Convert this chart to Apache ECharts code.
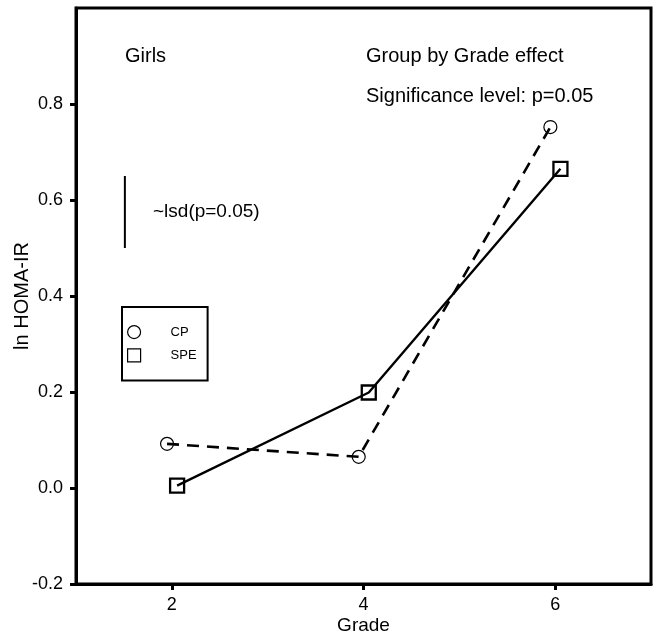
<!DOCTYPE html>
<html>
<head>
<meta charset="utf-8">
<script src="https://cdn.jsdelivr.net/npm/echarts@6/dist/echarts.min.js"></script>
<style>
  html, body { margin: 0; padding: 0; background: #fff; }
  #chart { width: 656px; height: 635px; }
</style>
</head>
<body>
<div id="chart"></div>
<script>
// ---- data ----
const grades = [2, 4, 6];
const cpValues = [0.092, 0.065, 0.752];
const speValues = [0.005, 0.199, 0.665];
const seriesNames = ['CP', 'SPE'];
const xTicks = [2, 4, 6];
const yTicks = [-0.2, 0.0, 0.2, 0.4, 0.6, 0.8];
const lsdX = 1.51;
const lsdRange = [0.50, 0.65];
const annotations = ['Girls', 'Group by Grade effect', 'Significance level: p=0.05', '~lsd(p=0.05)'];

// horizontal dodge so the two groups do not overlap
const dodgeCP = -0.05;
const dodgeSPE = 0.055;

const cpData = grades.map((g, i) => [g + dodgeCP, cpValues[i]]);
const speData = grades.map((g, i) => [g + dodgeSPE, speValues[i]]);
const lsdData = lsdRange.map(v => [lsdX, v]);

const FONT = 'Liberation Sans, Arial, Helvetica, sans-serif';
const chart = echarts.init(document.getElementById('chart'), null, { renderer: 'canvas' });

const hollow = (bw) => ({ color: 'rgba(0,0,0,0)', borderColor: '#000', borderWidth: bw });

chart.setOption({
  animation: false,
  backgroundColor: '#fff',
  grid: {
    left: 76, right: 5, top: 8, bottom: 51,
    outerBoundsMode: 'none', containLabel: false,
    show: true, borderColor: '#000', borderWidth: 3, backgroundColor: 'transparent'
  },
  xAxis: {
    type: 'value', min: 1, max: 7,
    name: 'Grade', nameLocation: 'middle', nameGap: 32, nameMoveOverlap: false,
    nameTextStyle: { fontFamily: FONT, fontSize: 19, color: '#000' },
    axisLine: { show: true, onZero: false, lineStyle: { color: '#000', width: 3 } },
    axisTick: { show: true, length: 6, lineStyle: { color: '#000', width: 3 }, customValues: xTicks },
    axisLabel: { fontFamily: FONT, fontSize: 18, color: '#000', margin: 12, customValues: xTicks },
    splitLine: { show: false }
  },
  yAxis: {
    type: 'value', min: -0.2, max: 1.0,
    name: 'ln HOMA-IR', nameLocation: 'middle', nameGap: 44, nameMoveOverlap: false,
    nameTextStyle: { fontFamily: FONT, fontSize: 20, color: '#000' },
    axisLine: { show: true, onZero: false, lineStyle: { color: '#000', width: 3 } },
    axisTick: { show: true, length: 6, lineStyle: { color: '#000', width: 3 }, customValues: yTicks },
    axisLabel: {
      fontFamily: FONT, fontSize: 18, color: '#000', margin: 13, customValues: yTicks,
      formatter: v => v.toFixed(1)
    },
    splitLine: { show: false }
  },
  legend: {
    orient: 'vertical', left: 122, top: 307,
    padding: [18, 11, 18, 5], itemGap: 9, itemWidth: 13, itemHeight: 13,
    borderColor: '#000', borderWidth: 2, backgroundColor: '#fff',
    textStyle: { fontFamily: FONT, fontSize: 13, color: '#000', padding: [0, 0, 0, 25] },
    selectedMode: false,
    data: [
      { name: seriesNames[0], icon: 'circle', itemStyle: hollow(1.2) },
      { name: seriesNames[1], icon: 'rect', itemStyle: hollow(1.2) }
    ]
  },
  series: [
    {
      name: seriesNames[0], type: 'line', data: cpData,
      symbol: 'circle', symbolSize: 13,
      itemStyle: hollow(1.2),
      lineStyle: { color: '#000', width: 2.6, type: [12, 8] },
      emphasis: { disabled: true }, z: 3
    },
    {
      name: seriesNames[1], type: 'line', data: speData,
      symbol: 'rect', symbolSize: 14,
      itemStyle: hollow(2.3),
      lineStyle: { color: '#000', width: 2.4, type: 'solid' },
      emphasis: { disabled: true }, z: 3
    },
    {
      name: 'lsd', type: 'line', data: lsdData,
      symbol: 'none', silent: true,
      lineStyle: { color: '#000', width: 2 },
      emphasis: { disabled: true }
    }
  ],
  graphic: [
    { type: 'text', x: 125, y: 56, silent: true,
      style: { text: annotations[0], font: '20px ' + FONT, fill: '#000', verticalAlign: 'middle', textVerticalAlign: 'middle' } },
    { type: 'text', x: 366, y: 56, silent: true,
      style: { text: annotations[1], font: '20px ' + FONT, fill: '#000', verticalAlign: 'middle', textVerticalAlign: 'middle' } },
    { type: 'text', x: 366, y: 96, silent: true,
      style: { text: annotations[2], font: '20px ' + FONT, fill: '#000', verticalAlign: 'middle', textVerticalAlign: 'middle' } },
    { type: 'text', x: 153, y: 212, silent: true,
      style: { text: annotations[3], font: '19px ' + FONT, fill: '#000', verticalAlign: 'middle', textVerticalAlign: 'middle' } }
  ]
});
</script>
</body>
</html>
